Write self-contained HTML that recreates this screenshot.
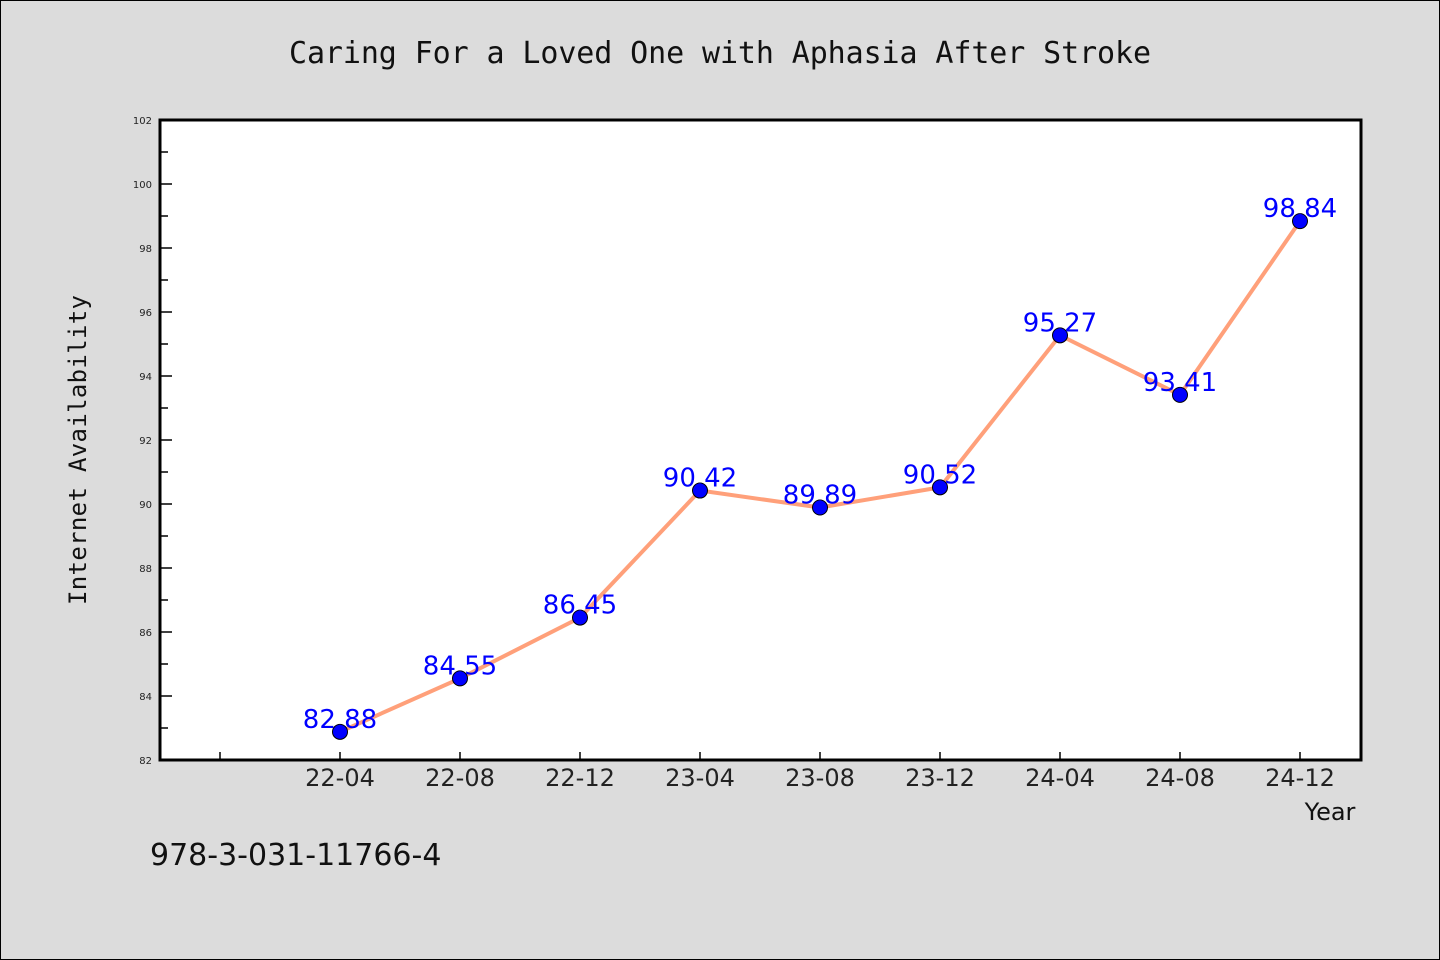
<!DOCTYPE html>
<html><head><meta charset="utf-8"><style>
html,body{margin:0;padding:0;background:#dcdcdc;}
svg{display:block;font-family:"DejaVu Sans","Liberation Sans",sans-serif;}
</style></head><body>
<svg id="chart" width="1440" height="960">
<rect x="0.5" y="0.5" width="1439" height="959" fill="#dcdcdc" stroke="#000"/>
<text x="720" y="63" text-anchor="middle" font-size="30" textLength="862" fill="#111" font-family="DejaVu Sans Mono, monospace">Caring For a Loved One with Aphasia After Stroke</text>
<rect x="160" y="120" width="1201" height="640" fill="#fff" stroke="#000" stroke-width="3"/>
<text transform="translate(86,450) rotate(-90)" text-anchor="middle" font-size="24" textLength="310" fill="#111" font-family="DejaVu Sans Mono, monospace">Internet Availability</text>
<text x="1330" y="820" text-anchor="middle" font-size="24" fill="#111">Year</text>
<text x="150" y="865" font-size="30" fill="#111">978-3-031-11766-4</text>
<g id="axes"></g><g id="series"></g>
</svg>
<script>
const categories=["22-04","22-08","22-12","23-04","23-08","23-12","24-04","24-08","24-12"];
const values=[82.88,84.55,86.45,90.42,89.89,90.52,95.27,93.41,98.84];
const yTicks=[82,84,86,88,90,92,94,96,98,100,102];
const yMin=82,yMax=102;
const NS="http://www.w3.org/2000/svg";
function y(v){return 760-(v-yMin)/(yMax-yMin)*640;}
function x(i){return 340+120*i;}
function mk(t,a,p){const e=document.createElementNS(NS,t);for(const k in a)e.setAttribute(k,a[k]);p.appendChild(e);return e;}
const ax=document.getElementById('axes'),se=document.getElementById('series');
for(let v=yMin;v<=yMax;v++){
  const major=yTicks.includes(v);
  const l=mk('line',{x1:160,x2:major?172:168,y1:y(v),y2:y(v),stroke:'#000','stroke-width':1.5},ax);
  
  
}
yTicks.forEach(v=>{
  const t=mk('text',{x:152,y:y(v)+4,'text-anchor':'end','font-size':10,fill:'#222'},ax);
  t.textContent=v;
  
  
});
{const l=mk('line',{x1:220,x2:220,y1:760,y2:752,stroke:'#000','stroke-width':1.5},ax);

}
categories.forEach((c,i)=>{
  const l=mk('line',{x1:x(i),x2:x(i),y1:760,y2:752,stroke:'#000','stroke-width':1.5},ax);
  
  
  const t=mk('text',{x:x(i),y:786,'text-anchor':'middle','font-size':24,fill:'#222'},ax);
  t.textContent=c;
  
  
});
const pl=mk('polyline',{points:values.map((v,i)=>x(i)+','+y(v)).join(' '),fill:'none',stroke:'#ffa07a','stroke-width':4},se);


values.forEach((v,i)=>{
  const c=mk('circle',{cx:x(i),cy:y(v),r:7.5,fill:'#0000ff',stroke:'#000','stroke-width':1},se);
  
  
  const t=mk('text',{x:x(i),y:y(v)-4,'text-anchor':'middle','font-size':26,fill:'#0000ff'},se);
  t.textContent=v.toFixed(2);
  
  
});
</script>
</body></html>
